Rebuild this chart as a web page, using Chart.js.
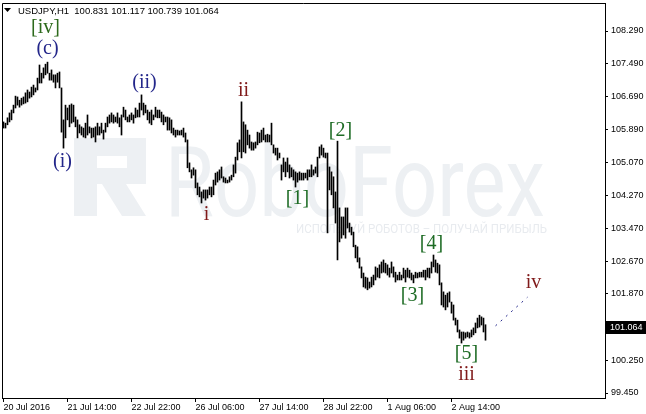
<!DOCTYPE html>
<html>
<head>
<meta charset="utf-8">
<script src="https://cdn.jsdelivr.net/npm/chart.js@4.4.1/dist/chart.umd.min.js"></script>
<style>
  html, body { margin: 0; padding: 0; background: #fff; }
  #chart { display: block; }
</style>
</head>
<body>
<canvas id="chart" width="646" height="414"></canvas>
<script>
// USDJPY H1 — hourly high/low, one entry per bar (index 0 = 20 Jul 2016 06:00)
const barHigh = [
  106.07, 106.04, 106.17, 106.29, 106.36, 106.48, 106.70, 106.68, 106.60, 106.65,
  106.68, 106.78, 106.85, 106.80, 106.92, 106.97, 106.90, 107.14, 107.46, 107.26,
  107.39, 107.48, 107.53, 107.26, 107.34, 107.22, 107.22, 107.26, 107.29, 106.90,
  106.12, 106.48, 106.41, 106.48, 106.51, 106.48, 106.19, 106.12, 106.00, 105.95,
  105.92, 106.04, 106.24, 105.95, 105.92, 105.92, 105.95, 106.04, 105.95, 106.04,
  105.87, 106.04, 106.19, 106.24, 106.29, 106.24, 106.19, 106.29, 106.17, 106.24,
  106.43, 106.36, 106.19, 106.24, 106.29, 106.24, 106.41, 106.36, 106.53, 106.73,
  106.53, 106.48, 106.36, 106.31, 106.36, 106.24, 106.43, 106.36, 106.36, 106.31,
  106.24, 106.19, 106.19, 106.17, 106.12, 105.92, 105.87, 105.87, 105.85, 105.87,
  105.92, 105.80, 105.63, 105.07, 104.90, 104.95, 104.90, 104.58, 104.48, 104.36,
  104.41, 104.41, 104.41, 104.48, 104.48, 104.65, 104.82, 104.85, 104.90, 104.97,
  104.73, 104.70, 104.65, 104.73, 104.77, 105.02, 105.21, 105.56, 105.63, 106.56,
  106.07, 106.00, 105.87, 105.75, 105.58, 105.56, 105.58, 105.82, 105.80, 105.87,
  105.92, 105.75, 105.77, 105.75, 106.04, 105.51, 105.43, 105.43, 105.31, 105.02,
  105.19, 105.09, 105.19, 105.02, 104.95, 104.90, 104.85, 104.82, 104.85, 104.82,
  104.82, 104.82, 104.90, 104.90, 105.02, 104.90, 104.97, 105.21, 105.46, 105.51,
  105.43, 105.31, 105.31, 104.97, 104.85, 104.73, 104.36, 105.60, 103.97, 103.75,
  103.75, 103.97, 103.97, 103.60, 103.50, 103.38, 103.06, 103.02, 102.75, 102.53,
  102.38, 102.28, 102.26, 102.16, 102.28, 102.33, 102.53, 102.50, 102.58, 102.65,
  102.70, 102.62, 102.58, 102.50, 102.65, 102.53, 102.40, 102.33, 102.40, 102.33,
  102.50, 102.45, 102.50, 102.45, 102.38, 102.33, 102.40, 102.38, 102.40, 102.40,
  102.45, 102.45, 102.50, 102.50, 102.65, 102.82, 102.70, 102.62, 102.58, 102.14,
  101.92, 101.84, 101.89, 101.92, 101.67, 101.60, 101.28, 101.23, 100.99, 100.94,
  100.94, 100.92, 100.94, 100.92, 100.99, 101.04, 101.16, 101.28, 101.35, 101.31,
  101.28, 101.117
];
const barLow = [
  105.92, 105.92, 106.00, 106.07, 106.12, 106.29, 106.41, 106.48, 106.43, 106.48,
  106.51, 106.53, 106.56, 106.65, 106.68, 106.73, 106.80, 106.85, 107.02, 107.02,
  107.14, 107.22, 107.26, 107.09, 107.09, 107.04, 106.90, 107.04, 106.90, 105.82,
  105.43, 105.68, 106.12, 105.95, 106.04, 106.07, 105.95, 105.68, 105.80, 105.75,
  105.70, 105.68, 105.75, 105.80, 105.68, 105.70, 105.58, 105.75, 105.75, 105.80,
  105.65, 105.82, 105.95, 106.04, 106.07, 106.04, 106.07, 106.04, 105.95, 105.75,
  106.19, 106.12, 106.07, 106.07, 106.12, 106.04, 106.17, 106.19, 106.19, 106.36,
  106.24, 106.29, 106.12, 106.04, 106.00, 106.12, 106.19, 106.17, 106.17, 106.07,
  106.00, 106.07, 105.87, 105.87, 105.80, 105.75, 105.70, 105.75, 105.75, 105.75,
  105.70, 105.58, 104.95, 104.85, 104.70, 104.77, 104.46, 104.29, 104.24, 104.09,
  104.21, 104.16, 104.21, 104.29, 104.24, 104.29, 104.53, 104.60, 104.65, 104.70,
  104.60, 104.58, 104.58, 104.60, 104.65, 104.73, 104.82, 105.14, 105.34, 105.19,
  105.34, 105.31, 105.51, 105.43, 105.38, 105.38, 105.43, 105.51, 105.56, 105.58,
  105.63, 105.58, 105.58, 105.58, 105.51, 105.31, 105.26, 105.14, 105.19, 104.65,
  104.85, 104.73, 104.85, 104.70, 104.73, 104.65, 104.48, 104.60, 104.65, 104.65,
  104.65, 104.70, 104.65, 104.73, 104.73, 104.77, 104.82, 104.73, 105.19, 105.26,
  105.21, 105.19, 103.36, 104.41, 104.29, 103.97, 103.60, 102.70, 103.14, 103.23,
  103.31, 103.23, 103.48, 103.38, 103.31, 103.02, 102.75, 102.65, 102.50, 102.26,
  102.04, 102.01, 101.97, 102.01, 102.04, 102.09, 102.21, 102.28, 102.26, 102.38,
  102.40, 102.38, 102.33, 102.28, 102.38, 102.28, 102.16, 102.21, 102.21, 102.21,
  102.26, 102.16, 102.28, 102.26, 102.21, 102.14, 102.26, 102.26, 102.28, 102.28,
  102.28, 102.21, 102.28, 102.26, 102.38, 102.53, 102.40, 102.38, 102.09, 101.60,
  101.55, 101.48, 101.55, 101.67, 101.40, 101.23, 101.11, 100.94, 100.79, 100.67,
  100.74, 100.79, 100.82, 100.79, 100.82, 100.87, 100.92, 101.04, 101.06, 101.11,
  100.94, 100.739
];

// axis ticks
const xTickIdx = [0, 32, 64, 96, 128, 160, 192, 224];
const xTickLabels = ['20 Jul 2016', '21 Jul 14:00', '22 Jul 22:00', '26 Jul 06:00',
                     '27 Jul 14:00', '28 Jul 22:00', '1 Aug 06:00', '2 Aug 14:00'];
const yTicks = [108.29, 107.49, 106.69, 105.89, 105.07, 104.27, 103.47, 102.67, 101.87, 100.25, 99.45];

const lastPrice = 101.064;
const titleText = 'USDJPY,H1  100.831 101.117 100.739 101.064';

// expected move after wave iii (dotted)
const projectionIdx = [246, 262];
const projectionPrice = [101.09, 101.79];

// wave marks: text, bar index, price, degree
const waveText  = ['[iv]', '(c)', '(i)', '(ii)', 'i', 'ii', '[1]', '[2]', '[3]', '[4]', '[5]', 'iii', 'iv'];
const waveIdx   = [21, 22, 29.5, 70.5, 101.5, 120, 147, 168.5, 204.5, 214, 231.5, 231.5, 265];
const wavePrice = [108.36, 107.85, 105.09, 107.02, 103.80, 106.82, 104.19, 105.85, 101.82, 103.09, 100.40, 99.89, 102.14];
const waveDegree = ['primary', 'inter', 'inter', 'inter', 'minor', 'minor', 'minute', 'minute', 'minute', 'minute', 'minute', 'minor', 'minor'];

const degreeColor = { primary: '#2d6a1c', inter: '#23268a', minor: '#801a1a', minute: '#1d6b24' };

Chart.defaults.font.family = '"Liberation Sans", Arial, sans-serif';
Chart.defaults.font.size = 9;
Chart.defaults.color = '#000';

const drawExtras = {
    id: 'drawExtras',
    beforeDatasetsDraw(chart) {
        const ctx = chart.ctx;
        ctx.save();
        // RoboForex watermark
        ctx.fillStyle = '#edf0f3';
        ctx.beginPath();
        ctx.moveTo(74, 138); ctx.lineTo(146, 138); ctx.lineTo(146, 184); ctx.lineTo(126, 184);
        ctx.lineTo(146, 216); ctx.lineTo(122, 216); ctx.lineTo(102, 184); ctx.lineTo(97, 184);
        ctx.lineTo(97, 216); ctx.lineTo(74, 216); ctx.closePath();
        ctx.moveTo(97, 156); ctx.lineTo(127, 156); ctx.lineTo(127, 168); ctx.lineTo(97, 168); ctx.closePath();
        ctx.fill('evenodd');

        ctx.font = '98px Roboto';
        ctx.textBaseline = 'alphabetic';
        let w = ctx.measureText('RoboForex').width;
        ctx.save();
        ctx.translate(165, 216);
        ctx.scale(380 / w, 1);
        ctx.fillText('RoboForex', 0, 0);
        ctx.restore();

        ctx.fillStyle = '#e8ebef';
        ctx.font = '13px Roboto';
        const sub = 'ИСПОЛЬЗУЙ РОБОТОВ – ПОЛУЧАЙ ПРИБЫЛЬ';
        w = ctx.measureText(sub).width;
        ctx.save();
        ctx.translate(296, 233);
        ctx.scale(251 / w, 1);
        ctx.fillText(sub, 0, 0);
        ctx.restore();
        ctx.restore();
    },
    afterDatasetsDraw(chart) {
        const ctx = chart.ctx;
        const xs = chart.scales.x, ys = chart.scales.y;
        ctx.save();
        ctx.font = '20px "Liberation Serif", "Times New Roman", serif';
        ctx.textAlign = 'center';
        ctx.textBaseline = 'middle';
        waveText.forEach((t, k) => {
            ctx.fillStyle = degreeColor[waveDegree[k]];
            ctx.fillText(t, xs.getPixelForValue(waveIdx[k]), ys.getPixelForValue(wavePrice[k]));
        });
        ctx.restore();
    },
    afterDraw(chart) {
        const ctx = chart.ctx;
        const area = chart.chartArea;
        ctx.save();
        // frame (left + top)
        ctx.strokeStyle = '#000';
        ctx.lineWidth = 1;
        ctx.beginPath();
        ctx.moveTo(area.left + 0.5, area.bottom);
        ctx.lineTo(area.left + 0.5, area.top + 0.5);
        ctx.lineTo(area.right, area.top + 0.5);
        ctx.stroke();

        // title
        ctx.fillStyle = '#000';
        ctx.beginPath();
        ctx.moveTo(4, 8); ctx.lineTo(11, 8); ctx.lineTo(7.5, 12); ctx.closePath();
        ctx.fill();
        ctx.font = '9.5px "Liberation Sans", Arial, sans-serif';
        ctx.textBaseline = 'middle';
        ctx.fillText(titleText, 18, 11);

        // current price box
        ctx.font = '9px "Liberation Sans", Arial, sans-serif';
        const py = Math.round(chart.scales.y.getPixelForValue(lastPrice));
        ctx.fillRect(area.right + 1, py - 6, 41, 13);
        ctx.fillStyle = '#fff';
        ctx.fillText(lastPrice.toFixed(3), area.right + 5, py + 0.5);
        ctx.restore();
    }
};

const barData = barHigh.map((h, i) => ({ x: i, y: [barLow[i], h] }));
const projData = projectionIdx.map((x, k) => ({ x: x, y: projectionPrice[k] }));

new Chart(document.getElementById('chart').getContext('2d'), {
    type: 'bar',
    data: {
        datasets: [{
            type: 'bar',
            data: barData,
            backgroundColor: '#000',
            borderWidth: 0,
            barThickness: 1,
            grouped: false
        }, {
            type: 'line',
            data: projData,
            borderColor: '#23268a',
            borderWidth: 1,
            borderDash: [2, 5],
            pointRadius: 0,
            fill: false
        }]
    },
    options: {
        responsive: false,
        animation: false,
        devicePixelRatio: 1,
        layout: { padding: { left: 2, top: 3, right: 0, bottom: 0 } },
        plugins: { legend: { display: false }, tooltip: { enabled: false } },
        scales: {
            x: {
                type: 'linear',
                min: -0.75,
                max: 300.75,
                offset: false,
                grid: { drawOnChartArea: false, offset: false, tickLength: 4, color: '#000' },
                border: { display: true, color: '#000' },
                afterBuildTicks: (scale) => { scale.ticks = xTickIdx.map(v => ({ value: v })); },
                afterFit: (scale) => { scale.height = 16; scale.paddingLeft = 0; scale.paddingRight = 0; },
                ticks: {
                    autoSkip: false,
                    maxRotation: 0,
                    align: 'start',
                    padding: 0,
                    callback: (v, i) => xTickLabels[i]
                }
            },
            y: {
                position: 'right',
                min: 99.328,
                max: 108.974,
                grid: { drawOnChartArea: false, tickLength: 3, color: '#000' },
                border: { display: true, color: '#000' },
                afterBuildTicks: (scale) => { scale.ticks = yTicks.map(v => ({ value: v })); },
                afterFit: (scale) => { scale.width = 41; scale.paddingTop = 0; scale.paddingBottom = 0; },
                ticks: {
                    padding: 3,
                    callback: (v) => v.toFixed(3)
                }
            }
        }
    },
    plugins: [drawExtras]
});
</script>
</body>
</html>
